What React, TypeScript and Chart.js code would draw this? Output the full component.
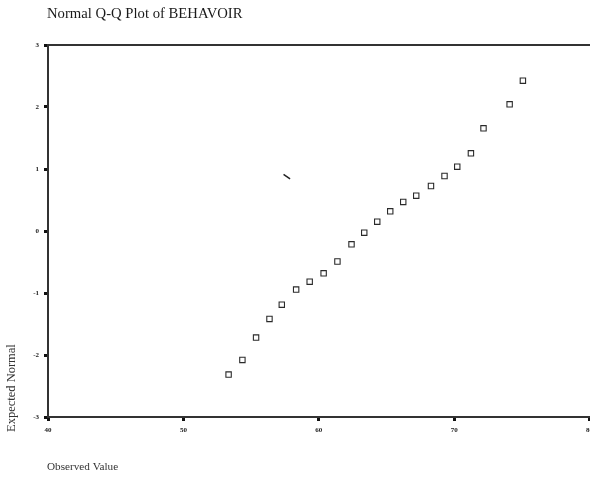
import React, { useEffect, useRef } from "react";
import { Chart, registerables } from "chart.js";

Chart.register(...registerables);

const titleText = "Normal Q-Q Plot of BEHAVOIR";
const xAxisTitle = "Observed Value";
const yAxisTitle = "Expected Normal";

const xTicks = [40, 50, 60, 70, 80];
const yTicks = [-3, -2, -1, 0, 1, 2, 3];

const observed = [
  53.34, 54.36, 55.37, 56.36, 57.27, 58.33, 59.33, 60.36, 61.38, 62.42, 63.36,
  64.32, 65.28, 66.24, 67.2, 68.29, 69.29, 70.23, 71.24, 72.17, 74.1, 75.08,
];
const expectedNormal = [
  -2.315, -2.08, -1.718, -1.419, -1.189, -0.944, -0.818, -0.682, -0.492, -0.215,
  -0.027, 0.15, 0.318, 0.468, 0.569, 0.726, 0.887, 1.037, 1.253, 1.656, 2.044,
  2.424,
];

// stray pen mark visible on the scanned plot
const strayX = [57.64];
const strayY = [0.876];

const FONT = "'Liberation Serif', 'DejaVu Serif', serif";

const textPlugin = {
  id: "qqText",
  afterDraw(chart: any) {
    const { ctx, chartArea } = chart;
    ctx.save();
    ctx.strokeStyle = "#333";
    ctx.lineWidth = 2;
    ctx.beginPath();
    ctx.moveTo(chartArea.left, chartArea.top);
    ctx.lineTo(chartArea.right + 6, chartArea.top);
    ctx.stroke();

    ctx.fillStyle = "#1a1a1a";
    ctx.textBaseline = "middle";
    ctx.textAlign = "left";
    ctx.font = `14.7px ${FONT}`;
    ctx.fillText(titleText, 47, 14);

    ctx.fillStyle = "#333";
    ctx.font = `11.2px ${FONT}`;
    ctx.fillText(xAxisTitle, 47, 467);

    ctx.translate(12, 432);
    ctx.rotate(-Math.PI / 2);
    ctx.font = `12.5px ${FONT}`;
    ctx.fillText(yAxisTitle, 0, 0);
    ctx.restore();
  },
};

export default function App() {
  const ref = useRef<HTMLCanvasElement | null>(null);
  useEffect(() => {
    if (!ref.current) return;
    const chart = new Chart(ref.current, {
      type: "scatter",
      data: {
        datasets: [
          {
            label: "BEHAVOIR",
            data: observed.map((x, i) => ({ x, y: expectedNormal[i] })),
            pointStyle: "rect",
            pointRadius: 3.8,
            pointBorderWidth: 1.1,
            borderColor: "#2a2a2a",
            backgroundColor: "#fff",
          },
          {
            label: "mark",
            data: strayX.map((x, i) => ({ x, y: strayY[i] })),
            pointStyle: "line",
            pointRadius: 4,
            rotation: 35,
            pointBorderWidth: 1.5,
            borderColor: "#222",
            backgroundColor: "#222",
          },
        ],
      },
      options: {
        responsive: false,
        animation: false,
        layout: { padding: { top: 45, right: 1, left: 0, bottom: 0 } },
        plugins: {
          legend: { display: false },
          title: { display: false },
          tooltip: { enabled: false },
        },
        scales: {
          x: {
            type: "linear",
            min: xTicks[0],
            max: xTicks[xTicks.length - 1],
            afterBuildTicks: (s: any) => {
              s.ticks = xTicks.map((v) => ({ value: v }));
            },
            afterFit: (s: any) => {
              s.height = 61;
              s.paddingLeft = 0;
              s.paddingRight = 0;
            },
            grid: {
              drawOnChartArea: false,
              drawTicks: true,
              tickLength: 4,
              tickWidth: 3,
              tickColor: "#111",
            },
            border: { display: true, color: "#333", width: 2 },
            ticks: {
              padding: 5,
              maxRotation: 0,
              color: "#222",
              font: { family: FONT, size: 7, weight: "bold" },
            },
          },
          y: {
            type: "linear",
            min: yTicks[0],
            max: yTicks[yTicks.length - 1],
            afterBuildTicks: (s: any) => {
              s.ticks = yTicks.map((v) => ({ value: v }));
            },
            afterFit: (s: any) => {
              s.width = 48;
              s.paddingTop = 0;
              s.paddingBottom = 0;
            },
            grid: {
              drawOnChartArea: false,
              drawTicks: true,
              tickLength: 4,
              tickWidth: 3,
              tickColor: "#111",
            },
            border: { display: true, color: "#333", width: 2 },
            ticks: {
              padding: 5,
              color: "#222",
              font: { family: FONT, size: 7, weight: "bold" },
            },
          },
        },
      },
      plugins: [textPlugin],
    });
    return () => chart.destroy();
  }, []);
  return (
    <div
      style={{
        position: "absolute",
        left: 0,
        top: 0,
        width: 590,
        height: 478,
        overflow: "hidden",
        background: "#fff",
      }}
    >
      <canvas ref={ref} width={595} height={478} style={{ display: "block" }} />
    </div>
  );
}
